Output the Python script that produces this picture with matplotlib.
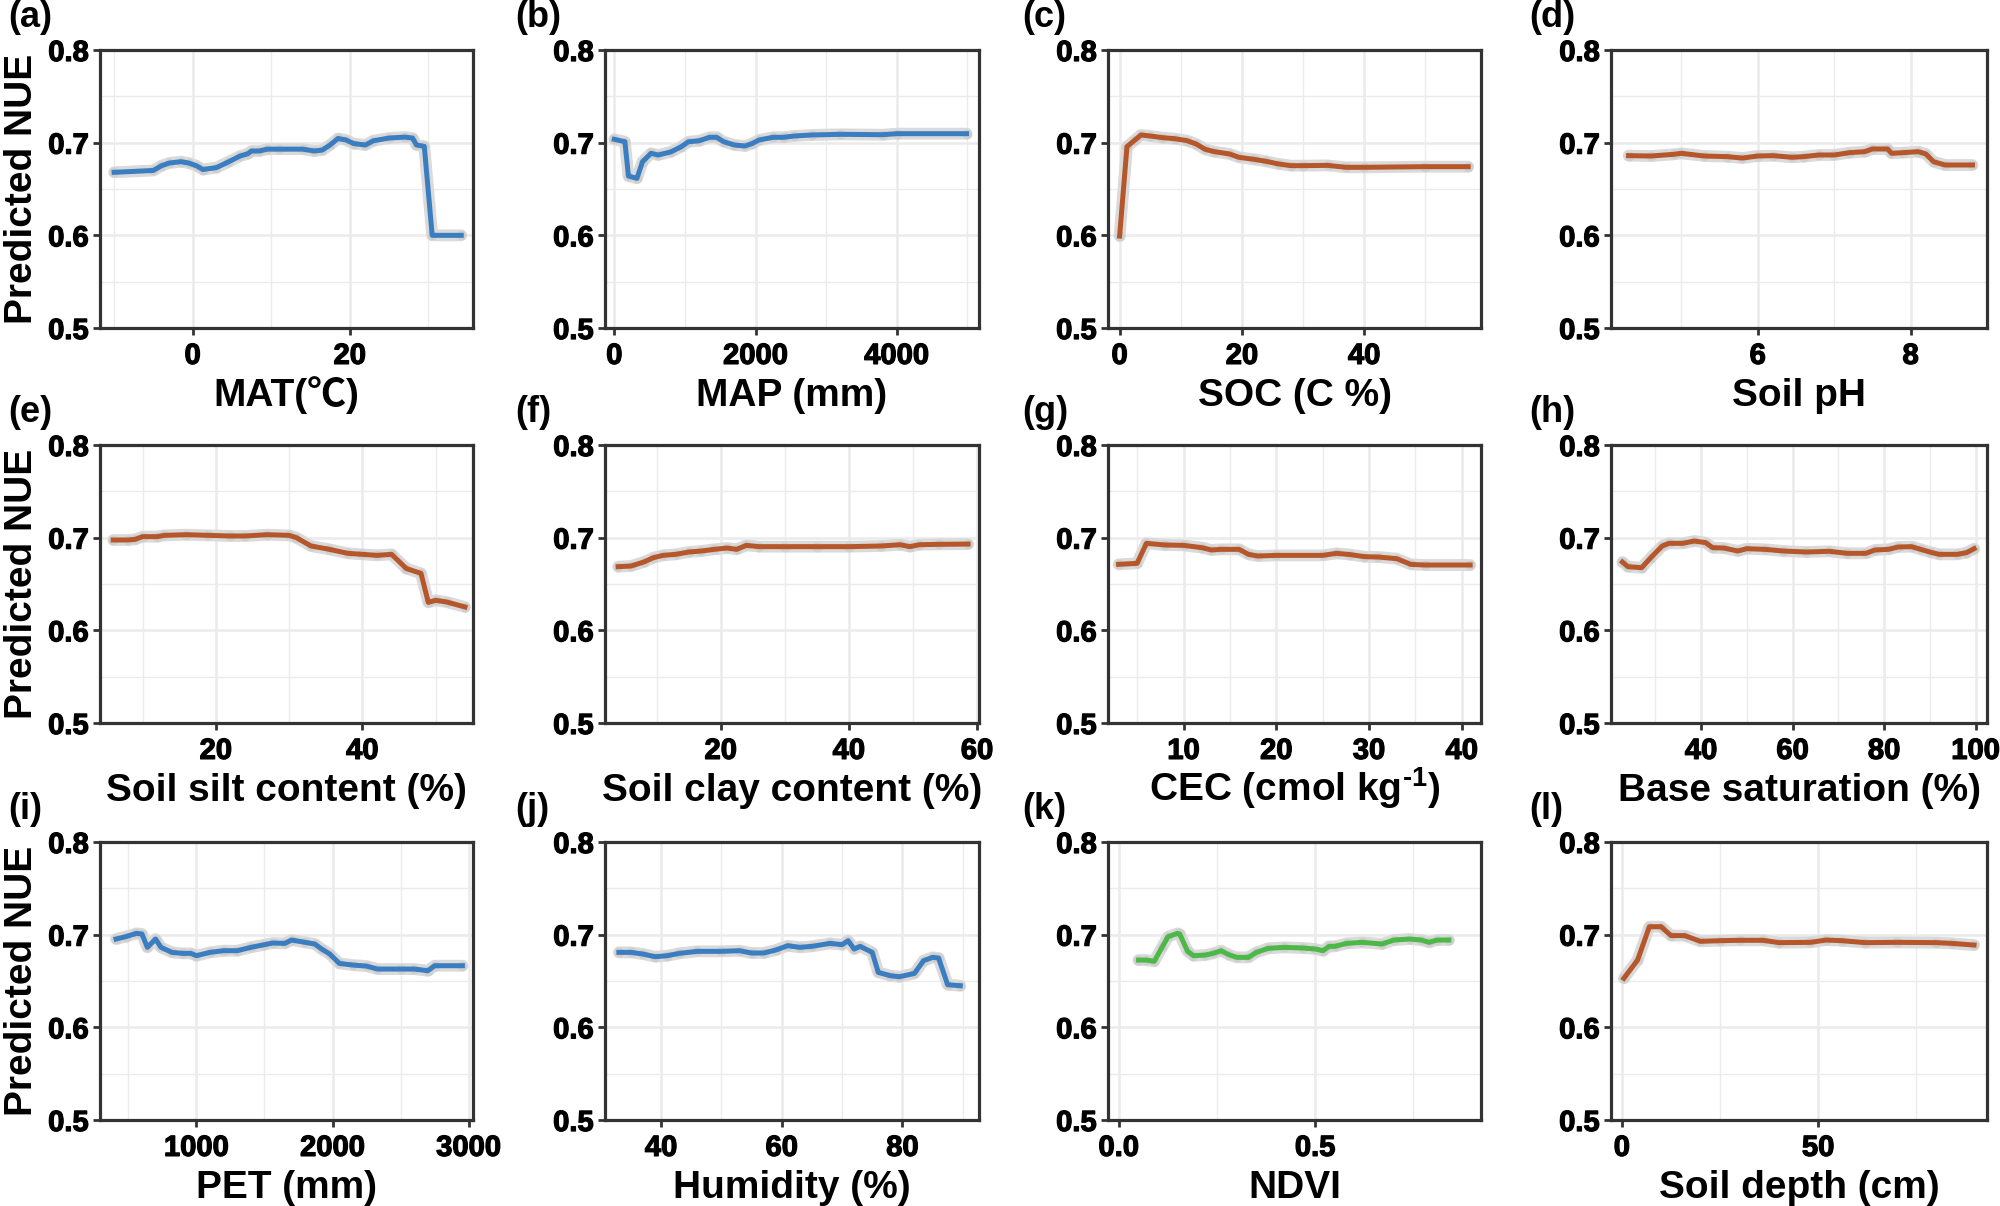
import matplotlib
matplotlib.use("Agg")
import matplotlib.pyplot as plt
from matplotlib.ticker import MultipleLocator, FixedLocator, FormatStrFormatter
from matplotlib.font_manager import FontProperties
import matplotlib.patheffects as pe

plt.rcParams['font.family'] = ['Liberation Sans', 'DejaVu Sans']
plt.rcParams['font.weight'] = 'bold'
plt.rcParams['mathtext.fontset'] = 'custom'
plt.rcParams['mathtext.rm'] = 'Liberation Sans:bold'
plt.rcParams['mathtext.bf'] = 'Liberation Sans:bold'
plt.rcParams['mathtext.default'] = 'bf'

# ---------------- data ----------------
mat_x = [-10, -5, -4, -3, -1.5, -0.5, 0.5, 1.3, 3, 4.5, 6, 7, 7.5, 8.5, 9.5, 11, 14, 15.5, 16.5,
         17.5, 18.5, 19.5, 20.5, 22, 23, 25, 27, 28, 28.5, 29.5, 30.5, 34.2]
mat_y = [0.668, 0.670, 0.675, 0.678, 0.6795, 0.678, 0.675, 0.671, 0.673, 0.679, 0.6855, 0.688,
         0.691, 0.691, 0.693, 0.693, 0.693, 0.691, 0.692, 0.6975, 0.7045, 0.703, 0.699, 0.6975,
         0.702, 0.705, 0.706, 0.705, 0.6975, 0.696, 0.600, 0.600]

map_x = [0, 150, 200, 320, 400, 520, 620, 800, 950, 1050, 1200, 1350, 1450, 1550, 1700, 1850,
         1950, 2050, 2250, 2400, 2550, 2800, 3200, 3800, 4000, 4990]
map_y = [0.7036, 0.701, 0.664, 0.6615, 0.6795, 0.6885, 0.6867, 0.690, 0.6957, 0.701, 0.702,
         0.7058, 0.7058, 0.701, 0.6975, 0.6964, 0.699, 0.7029, 0.7058, 0.7058, 0.7072, 0.7083,
         0.709, 0.7086, 0.7097, 0.7097]

soc_x = [0, 1.2, 2.5, 3.5, 5, 7, 9, 11, 12.5, 14, 15.5, 18, 19.5, 22, 24, 26, 28, 30, 34, 37,
         40, 50, 57]
soc_y = [0.5992, 0.6957, 0.7029, 0.7083, 0.7072, 0.7054, 0.7043, 0.7022, 0.6986, 0.6928,
         0.6903, 0.6878, 0.6842, 0.682, 0.6798, 0.677, 0.6752, 0.6752, 0.6755, 0.6734, 0.6734,
         0.6741, 0.6741]

ph_x = [4.31, 4.6, 4.9, 5.0, 5.3, 5.6, 5.8, 6.0, 6.2, 6.45, 6.6, 6.8, 7.0, 7.2, 7.4, 7.5, 7.7,
        7.75, 7.9, 8.1, 8.2, 8.3, 8.45, 8.81]
ph_y = [0.686, 0.6856, 0.6874, 0.6885, 0.6856, 0.6849, 0.6834, 0.6856, 0.686, 0.6842, 0.6849,
        0.6867, 0.6867, 0.6892, 0.6903, 0.6932, 0.6932, 0.6885, 0.6892, 0.6903, 0.6878, 0.6795,
        0.6759, 0.6759]

silt_x = [6, 8, 9, 10, 12, 13, 16, 19, 22, 24, 27, 30, 31, 33, 35.5, 38, 40, 42, 44, 46, 48,
          49, 50, 51.5, 54]
silt_y = [0.6975, 0.6975, 0.6982, 0.7011, 0.7011, 0.7025, 0.7032, 0.7025, 0.7018, 0.7018,
          0.7032, 0.7025, 0.700, 0.691, 0.6874, 0.6831, 0.682, 0.6809, 0.682, 0.6667, 0.6615,
          0.6302, 0.6324, 0.6306, 0.6252]

clay_x = [4, 6, 8, 9.5, 11, 13, 15, 17, 19, 21, 22.5, 24, 26, 30, 35, 40, 45, 48, 49.5, 51,
          54, 58.6]
clay_y = [0.6687, 0.6694, 0.6737, 0.6784, 0.6809, 0.682, 0.6845, 0.6856, 0.6874, 0.6888,
          0.6874, 0.6917, 0.6903, 0.6903, 0.6903, 0.6903, 0.691, 0.6924, 0.6903, 0.6924,
          0.6928, 0.6931]

cec_x = [3, 5, 6, 8, 10, 12, 13, 14, 16, 17, 18, 20, 25, 26.5, 28, 29.5, 31, 33, 34.5, 36,
         40.9]
cec_y = [0.6712, 0.6723, 0.6939, 0.6921, 0.6917, 0.6892, 0.6867, 0.6874, 0.6874, 0.682,
         0.6802, 0.6809, 0.6809, 0.6831, 0.6817, 0.6795, 0.6791, 0.6773, 0.6712, 0.6705, 0.6705]

bs_x = [22.8, 24, 27, 29, 31.5, 33, 36, 38.5, 41, 42.5, 45, 48, 50, 54, 58, 63, 68, 72, 76,
        78, 81, 83, 86, 88, 90, 92, 96, 98, 99.7]
bs_y = [0.6737, 0.6687, 0.6676, 0.6784, 0.691, 0.6939, 0.6939, 0.6964, 0.6946, 0.6892,
        0.6888, 0.6856, 0.6881, 0.6874, 0.6856, 0.6845, 0.6853, 0.6831, 0.6831, 0.6867,
        0.6874, 0.6899, 0.6903, 0.6874, 0.6845, 0.682, 0.682, 0.6838, 0.6881]

pet_x = [410, 480, 560, 600, 640, 700, 740, 820, 900, 960, 1000, 1100, 1200, 1300, 1400,
         1500, 1560, 1650, 1700, 1800, 1870, 1920, 1980, 2050, 2150, 2250, 2330, 2500, 2600,
         2700, 2750, 2954]
pet_y = [0.6953, 0.6978, 0.7014, 0.7007, 0.6863, 0.6953, 0.6863, 0.6809, 0.6798, 0.6798,
         0.6773, 0.6809, 0.6827, 0.6827, 0.6863, 0.6892, 0.691, 0.6906, 0.6942, 0.6917,
         0.6899, 0.6845, 0.6791, 0.669, 0.6672, 0.6661, 0.6629, 0.6629, 0.6629, 0.6611,
         0.6665, 0.6665]

hum_x = [33, 35, 37, 39, 41, 43, 46, 50, 53, 55, 57, 59, 61, 63, 65, 68, 70, 71, 72, 73, 75,
         76, 78, 79.5, 82, 83.5, 85, 86, 87.5, 89.6]
hum_y = [0.6809, 0.6809, 0.6791, 0.6762, 0.6773, 0.6798, 0.682, 0.682, 0.6827, 0.6802,
         0.6802, 0.6834, 0.6881, 0.6863, 0.6874, 0.6906, 0.6892, 0.6935, 0.6845, 0.6874,
         0.6809, 0.6593, 0.6557, 0.6546, 0.6582, 0.6719, 0.6755, 0.6748, 0.646, 0.6449]

ndvi_x = [0.05, 0.07, 0.09, 0.11, 0.125, 0.15, 0.155, 0.175, 0.19, 0.22, 0.24, 0.26, 0.28,
          0.30, 0.33, 0.35, 0.38, 0.42, 0.47, 0.50, 0.52, 0.535, 0.55, 0.58, 0.62, 0.67, 0.70,
          0.74, 0.77, 0.79, 0.81, 0.84]
ndvi_y = [0.6726, 0.6726, 0.6712, 0.6863, 0.6978, 0.7014, 0.7007, 0.682, 0.6773, 0.678,
          0.6798, 0.6827, 0.6784, 0.6755, 0.6755, 0.6809, 0.6852, 0.6863, 0.6856, 0.6845,
          0.6827, 0.6874, 0.6874, 0.6906, 0.6917, 0.6899, 0.6942, 0.6953, 0.6942, 0.6917,
          0.6942, 0.6942]

depth_x = [0.5, 4, 7, 10, 12.5, 16, 20, 25, 30, 36, 40, 48, 52, 56, 62, 70, 80, 84, 89.7]
depth_y = [0.6529, 0.6726, 0.7086, 0.7086, 0.699, 0.699, 0.6928, 0.6935, 0.6939, 0.6939,
           0.6914, 0.6917, 0.6942, 0.6935, 0.6914, 0.6917, 0.6914, 0.6906, 0.6888]

panel_letters = ['(a)', '(b)', '(c)', '(d)', '(e)', '(f)', '(g)', '(h)', '(i)', '(j)', '(k)', '(l)']
x_titles = ['MAT(℃)', 'MAP (mm)', 'SOC (C %)', 'Soil pH',
            'Soil silt content (%)', 'Soil clay content (%)', r'CEC (cmol kg$^{\text{-1}}$)',
            'Base saturation (%)', 'PET (mm)', 'Humidity (%)', 'NDVI', 'Soil depth (cm)']
y_title = 'Predicted NUE'
y_ticks = [0.5, 0.6, 0.7, 0.8]

BLUE = '#3A7DC0'
BROWN = '#B5572A'
GREEN = '#4CB848'

series = [(mat_x, mat_y), (map_x, map_y), (soc_x, soc_y), (ph_x, ph_y),
          (silt_x, silt_y), (clay_x, clay_y), (cec_x, cec_y), (bs_x, bs_y),
          (pet_x, pet_y), (hum_x, hum_y), (ndvi_x, ndvi_y), (depth_x, depth_y)]
colors = [BLUE, BLUE, BROWN, BROWN, BROWN, BROWN, BROWN, BROWN, BLUE, BLUE, GREEN, BROWN]
xlims = [(-11.8, 35.7), (-132, 5166), (-1.9, 59.1), (4.08, 9.0),
         (4.2, 55.1), (1.95, 60.3), (1.86, 42.07), (20.3, 102.5),
         (292, 3032), (30.7, 92.7), (-0.0276, 0.922), (-2.77, 93.0)]
majors = [[0, 20], [0, 2000, 4000], [0, 20, 40], [6, 8],
          [20, 40], [20, 40, 60], [10, 20, 30, 40], [40, 60, 80, 100],
          [1000, 2000, 3000], [40, 60, 80], [0.0, 0.5], [0, 50]]
minor_step = [10, 1000, 10, 1, 10, 10, 5, 10, 500, 10, 0.25, 25]
fmts = [None] * 10 + ['%.1f', None]

tick_fp = FontProperties(family=['Liberation Sans'], weight='bold', size=21)
thick = [pe.withStroke(linewidth=0.9, foreground='black')]

# ---------------- layout ----------------
W, H = 2000, 1206
fig = plt.figure(figsize=(W / 100, H / 100), dpi=100)
col_left = [100, 605, 1108, 1611]
col_w = [373, 374, 373, 376]
row_top = [50, 445, 842]
ax_h = 278
label_x = [8, 515, 1022, 1529]

for i in range(12):
    r, c = divmod(i, 4)
    left = col_left[c] / W
    bottom = 1 - (row_top[r] + ax_h) / H
    ax = fig.add_axes([left, bottom, col_w[c] / W, ax_h / H])
    xs, ys = series[i]
    ax.plot(xs, ys, color='#DADADA', lw=8.5, solid_capstyle='round',
            solid_joinstyle='round', zorder=3)
    ax.plot(xs, ys, 'o', color='#CFCFCF', ms=7, mec='none', zorder=3.5)
    ax.plot(xs, ys, color=colors[i], lw=3.6, solid_joinstyle='round', zorder=4)

    ax.set_xlim(*xlims[i])
    ax.set_ylim(0.5, 0.8)
    ax.xaxis.set_major_locator(FixedLocator(majors[i]))
    ax.xaxis.set_minor_locator(MultipleLocator(minor_step[i]))
    if fmts[i]:
        ax.xaxis.set_major_formatter(FormatStrFormatter(fmts[i]))
    ax.yaxis.set_major_locator(FixedLocator(y_ticks))
    ax.yaxis.set_major_formatter(FormatStrFormatter('%.1f'))
    ax.yaxis.set_minor_locator(MultipleLocator(0.05))

    ax.grid(which='major', color='#EBEBEB', lw=1.8, zorder=0)
    ax.grid(which='minor', color='#EBEBEB', lw=1.0, zorder=0)
    ax.set_axisbelow(True)
    for s in ax.spines.values():
        s.set_color('#333333')
        s.set_linewidth(2.3)
    ax.tick_params(which='major', length=5, width=2, color='#333333',
                   labelsize=21, labelcolor='black')
    ax.tick_params(axis='x', which='major', pad=5)
    ax.tick_params(axis='y', which='major', pad=3)
    ax.tick_params(which='minor', length=0)
    for lab in ax.get_xticklabels() + ax.get_yticklabels():
        lab.set_fontproperties(tick_fp)
        lab.set_path_effects(thick)

    if i == 0:
        fam = ['Liberation Sans', 'Noto Sans CJK SC']
    else:
        fam = ['Liberation Sans', 'DejaVu Sans']
    ax.text(0.5, -78 / ax_h, x_titles[i], transform=ax.transAxes, ha='center',
            va='baseline', fontsize=28, fontweight='bold', family=fam)

    fig.text(label_x[c] / W, 1 - (row_top[r] - 50) / H, panel_letters[i],
             ha='left', va='top', fontsize=26, fontweight='bold')
    if c == 0:
        fig.text(22 / W, 1 - (row_top[r] + ax_h / 2) / H, y_title, rotation=90,
                 ha='center', va='center', fontsize=28, fontweight='bold')

fig.savefig('out.png', dpi=100, facecolor='white')
